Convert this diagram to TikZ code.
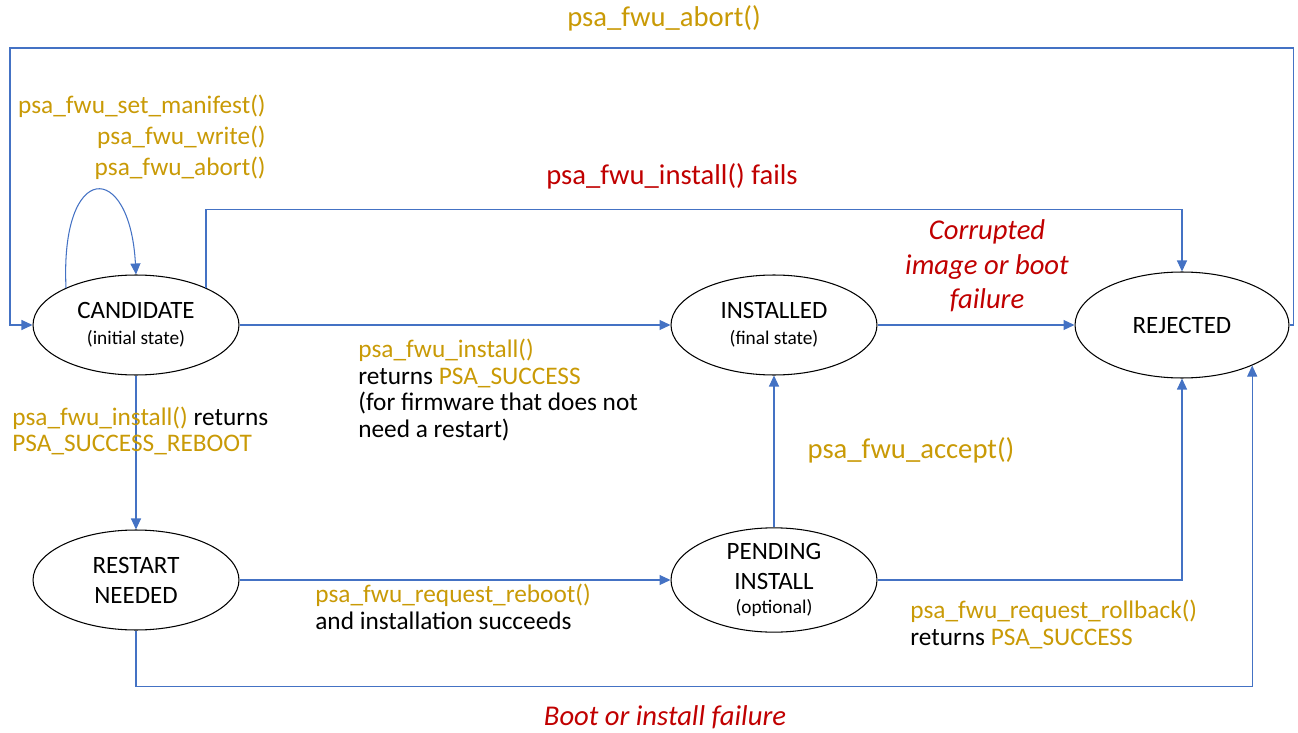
\documentclass[tikz,border=0pt]{standalone}
\usepackage{fontspec}
\setmainfont{Carlito}
\usetikzlibrary{arrows.meta,shapes.geometric}
\definecolor{fwgold}{HTML}{C99A06}
\definecolor{fwred}{HTML}{C00000}
\definecolor{fwblue}{HTML}{4472C4}
\newcommand{\fwg}[1]{\textcolor{fwgold}{#1}}

\begin{document}
\begin{tikzpicture}[x=0.02cm,y=-0.02cm,
    state/.style={ellipse,draw,line width=0.6pt,inner sep=0pt,minimum width=4.12cm,minimum height=2cm,align=center,font=\fontsize{14.2}{17}\selectfont},
    flow/.style={draw=fwblue,line width=0.6pt,-{Triangle[length=0.22cm,width=0.2cm]}},
    lbl/.style={inner sep=0pt,align=left,font=\fontsize{14.4}{15.3}\selectfont},
    big/.style={inner sep=0pt,font=\fontsize{16.3}{19.6}\selectfont}]
    \useasboundingbox (0,0) rectangle (1298,733);
    \node[state] (cand) at (136,325) {CANDIDATE\\[-2pt]{\fontsize{11}{13}\selectfont(initial state)}};
    \node[state] (inst) at (774,325) {INSTALLED\\[-2pt]{\fontsize{11}{13}\selectfont(final state)}};
    \node[state,minimum width=4.28cm,minimum height=2.12cm] (rej) at (1182,325) {REJECTED};
    \node[state] (restart) at (136,580) {RESTART\\NEEDED};
    \node[state] (pend) at (774,580) {PENDING\\INSTALL\\[-3pt]{\fontsize{11}{13}\selectfont(optional)}};
    \draw[flow] (cand.152) .. controls (60,160) and (130,160) .. (cand.north);
    \draw[flow] (cand.east) -- (inst.west);
    \draw[flow] (cand.south) -- (restart.north);
    \draw[flow] (cand.28) -- ++(0,-78) -| (rej.north);
    \draw[flow] (rej.east) -- ++(4,0) |- (10,48) |- (cand.west);
    \draw[flow] (inst.east) -- (rej.west);
    \draw[flow] (restart.east) -- (pend.west);
    \draw[flow] (pend.north) -- (inst.south);
    \draw[flow] (pend.east) -| (rej.south);
    \draw[flow] (restart.south) -- ++(0,56) -| (rej.-30);
    \node[big,text=fwgold] (abortl) at (664,18) {psa\_fwu\_abort()};
    \node[lbl,anchor=east,align=right,text=fwgold,font=\fontsize{14.4}{17.6}\selectfont] (loopl) at (266,137) {psa\_fwu\_set\_manifest()\\psa\_fwu\_write()\\psa\_fwu\_abort()};
    \node[big,text=fwred] (failsl) at (672,176) {psa\_fwu\_install() fails};
    \node[big,text=fwred,align=center,font=\fontsize{16.3}{19.6}\selectfont\itshape] (corruptl) at (987,266) {Corrupted\\image or boot\\failure};
    \node[lbl,anchor=west] (installl) at (358,390) {\fwg{psa\_fwu\_install()}\\returns \fwg{PSA\_SUCCESS}\\(for firmware that does not\\need a restart)};
    \node[lbl,anchor=west] (rebootl) at (12,431) {\fwg{psa\_fwu\_install()} returns\\\fwg{PSA\_SUCCESS\_REBOOT}};
    \node[big,text=fwgold] (acceptl) at (911,450) {psa\_fwu\_accept()};
    \node[lbl,anchor=west] (requestl) at (315,607) {\fwg{psa\_fwu\_request\_reboot()}\\and installation succeeds};
    \node[lbl,anchor=west] (rollbackl) at (910,624) {\fwg{psa\_fwu\_request\_rollback()}\\returns \fwg{PSA\_SUCCESS}};
    \node[big,text=fwred,font=\fontsize{16.3}{19.6}\selectfont\itshape] (bootl) at (665,717) {Boot or install failure};
\end{tikzpicture}
\end{document}
